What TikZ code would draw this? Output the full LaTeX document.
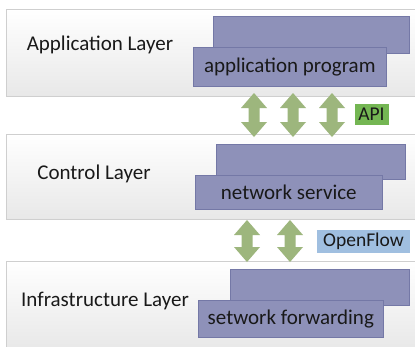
\documentclass[tikz,border=0pt]{standalone}
\usepackage{fontspec}
\setmainfont{Carlito}
\definecolor{boxpurple}{HTML}{8E91B9}
\definecolor{boxedge}{HTML}{7478A6}
\definecolor{arrowgreen}{HTML}{9DB67D}
\definecolor{apigreen}{HTML}{74B653}
\definecolor{ofblue}{HTML}{A0BFE0}
\definecolor{layeredge}{HTML}{CFCFCF}
\tikzset{
  layer/.style={draw=layeredge, line width=0.8pt, top color=white, bottom color=black!9},
  block/.style={draw=boxedge, line width=0.6pt, fill=boxpurple, inner sep=0pt},
  layertext/.style={font=\fontsize{21}{25}\selectfont, text=black!90},
  blocktext/.style={font=\fontsize{21}{25}\selectfont, text=black!90},
  tag/.style={inner sep=0pt, font=\fontsize{19.5}{22}\selectfont, text=black!90},
}
% vertical double-headed arrow between two y positions
\newcommand\updown[3]{%
  \fill[arrowgreen] (#1,#2) -- (#1+13,#2+15) -- (#1+5.5,#2+15) -- (#1+5.5,#3-15)
    -- (#1+13,#3-15) -- (#1,#3) -- (#1-13,#3-15) -- (#1-5.5,#3-15)
    -- (#1-5.5,#2+15) -- (#1-13,#2+15) -- cycle;}
\begin{document}
\begin{tikzpicture}[x=1pt,y=-1pt]
\useasboundingbox (0,0) rectangle (415,346);
\fill[white] (0,0) rectangle (415,346);

% application layer
\path[layer] (6,9) rectangle (418,96);
\node[layertext] (appl) at (100,45) {Application Layer};
\path[block] (213,16) rectangle (409,53);
\node[block, minimum width=193pt, minimum height=39pt, anchor=north west] (app) at (193,47) {};
\node[blocktext] at (app.center) {application program};

% control layer
\path[layer] (6,134) rectangle (418,219);
\node[layertext] (ctll) at (94,174) {Control Layer};
\path[block] (216,144) rectangle (405,179);
\node[block, minimum width=187pt, minimum height=34pt, anchor=north west] (ctl) at (195,175) {};
\node[blocktext] at (ctl.center) {network service};

% infrastructure layer
\path[layer] (6,261) rectangle (418,349);
\node[layertext] (infl) at (105,301) {Infrastructure Layer};
\path[block] (230,269) rectangle (409,305);
\node[block, minimum width=185pt, minimum height=37pt, anchor=north west] (inf) at (198,300) {};
\node[blocktext] at (inf.center) {setwork forwarding};

% interface arrows
\updown{254}{93}{137}
\updown{293}{93}{137}
\updown{332}{93}{137}
\updown{247}{220}{262}
\updown{290}{220}{262}

% interface tags
\node[tag, fill=apigreen, minimum width=34pt, minimum height=21pt] (api) at (371.5,114.5) {API};
\node[tag, fill=ofblue, minimum width=93pt, minimum height=23pt] (of) at (363.5,241.5) {OpenFlow};
\end{tikzpicture}
\end{document}
